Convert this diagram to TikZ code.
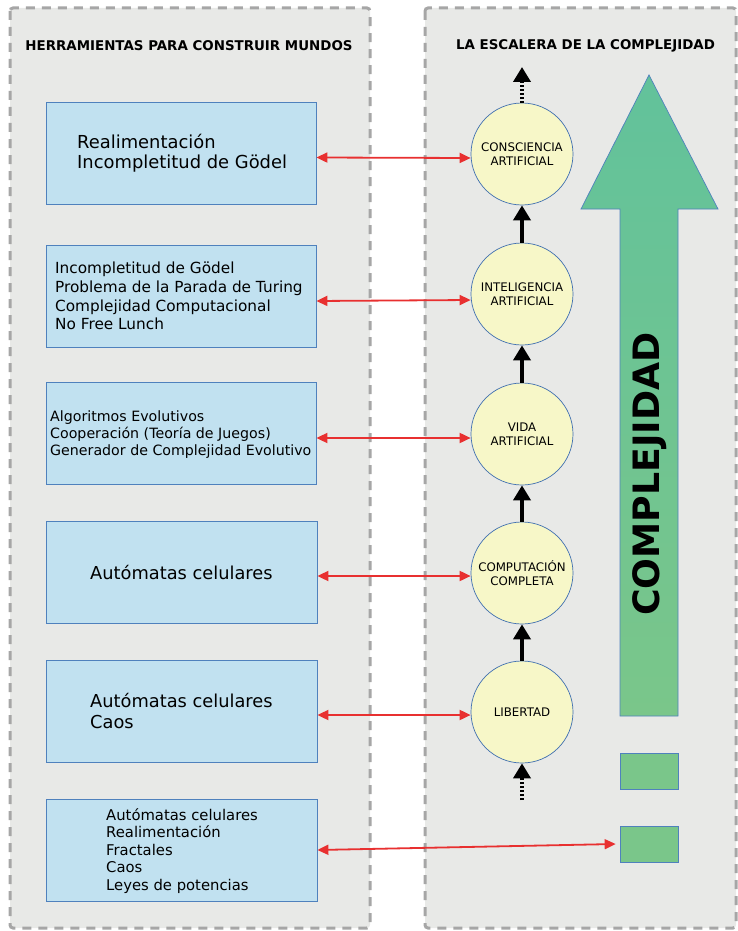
\documentclass[tikz,border=0pt]{standalone}
\usepackage{fontspec}
\setmainfont{DejaVu Sans}
\usetikzlibrary{arrows.meta,calc}
\definecolor{panelfill}{HTML}{E8E9E7}
\definecolor{paneldash}{HTML}{A6A6A6}
\definecolor{boxfill}{HTML}{C1E1F0}
\definecolor{boxline}{HTML}{4F81BD}
\definecolor{circfill}{HTML}{F7F7C8}
\definecolor{circline}{HTML}{3F6FB0}
\definecolor{redarrow}{HTML}{E83030}
\definecolor{greentop}{HTML}{62C29B}
\definecolor{greenbot}{HTML}{7AC68A}
\tikzset{
  panel/.style={draw=paneldash, fill=panelfill, line width=3pt, dash pattern=on 9pt off 7pt},
  toolbox/.style={draw=boxline, fill=boxfill, line width=0.8pt, minimum width=270pt, minimum height=102pt, inner sep=0pt},
  rung/.style={circle, draw=circline, fill=circfill, line width=0.7pt, minimum size=102pt, inner sep=0pt, align=center, font=\fontsize{11.8}{14}\selectfont},
  boxtext/.style={anchor=west, align=left, inner sep=0pt},
  redarr/.style={draw=redarrow, line width=1.8pt, {Triangle[width=10pt,length=11pt]}-{Triangle[width=10pt,length=11pt]}},
  blackarr/.style={draw=black, line width=4pt, -{Triangle[width=17pt,length=15pt]}},
  dotarr/.style={draw=black, line width=4pt, dash pattern=on 2pt off 2pt, -{Triangle[width=17pt,length=15pt]}},
  greenbox/.style={draw=boxline, fill=greenbot, line width=0.7pt, minimum width=58pt, minimum height=36pt, inner sep=0pt},
  titletext/.style={font=\bfseries\fontsize{13.4}{16}\selectfont}
}
\begin{document}
\begin{tikzpicture}[x=1pt,y=-1pt]
\useasboundingbox (0,0) rectangle (738,931);
% panels
\draw[panel, rounded corners=3pt] (10,8) rectangle (370,928);
\draw[panel, rounded corners=3pt] (425,8) rectangle (736,928);
\node[titletext] (tl) at (189,46) {HERRAMIENTAS PARA CONSTRUIR MUNDOS};
\node[titletext] (tr) at (585.5,46) {LA ESCALERA DE LA COMPLEJIDAD};
% boxes
\node[toolbox] (b1) at (181,153.5) {};
\node[toolbox] (b2) at (181,296) {};
\node[toolbox] (b3) at (181,433) {};
\node[toolbox, minimum width=271pt] (b4) at (181.5,572) {};
\node[toolbox, minimum width=271pt] (b5) at (181.5,711) {};
\node[toolbox, minimum width=271pt] (b6) at (181.5,850) {};
\node[boxtext, font=\fontsize{17.9}{20}\selectfont] (t1) at (77,153) {Realimentación\\Incompletitud de Gödel};
\node[boxtext, font=\fontsize{15.3}{18.7}\selectfont] (t2) at (55,296) {Incompletitud de Gödel\\Problema de la Parada de Turing\\Complejidad Computacional\\No Free Lunch};
\node[boxtext, font=\fontsize{14.2}{17}\selectfont] (t3) at (50,435) {Algoritmos Evolutivos\\Cooperación (Teoría de Juegos)\\Generador de Complejidad Evolutivo};
\node[boxtext, font=\fontsize{17.8}{21}\selectfont] (t4) at (90,573) {Autómatas celulares};
\node[boxtext, font=\fontsize{17.8}{21}\selectfont] (t5) at (90,711) {Autómatas celulares\\Caos};
\node[boxtext, font=\fontsize{14.8}{17.5}\selectfont] (t6) at (106,851) {Autómatas celulares\\Realimentación\\Fractales\\Caos\\Leyes de potencias};
% circles
\node[rung] (c1) at (522,154) {CONSCIENCIA\\ARTIFICIAL};
\node[rung] (c2) at (522,294) {INTELIGENCIA\\ARTIFICIAL};
\node[rung] (c3) at (522,434) {VIDA\\ARTIFICIAL};
\node[rung] (c4) at (522,573) {COMPUTACIÓN\\COMPLETA};
\node[rung] (c5) at (522,712) {LIBERTAD};
% black arrows
\draw[blackarr] (c2.north) -- (c1.south);
\draw[blackarr] (c3.north) -- (c2.south);
\draw[blackarr] (c4.north) -- (c3.south);
\draw[blackarr] (c5.north) -- (c4.south);
\coordinate (topend) at (522,67);
\coordinate (botstart) at (522,800);
\draw[dotarr] (c1.north) -- (topend);
\draw[dotarr] (botstart) -- (c5.south);
% green arrow
\shade[top color=greentop, bottom color=greenbot, draw=boxline, line width=0.7pt]
  (620,716) -- (620,209) -- (581,209) -- (649,75) -- (718,209) -- (678,209) -- (678,716) -- cycle;
\node[rotate=90, font=\bfseries\fontsize{36.3}{40}\selectfont] (cx) at (650,474) {COMPLEJIDAD};
\node[greenbox] (g1) at (649,771) {};
\node[greenbox] (g2) at (649,844) {};
% red arrows
\draw[redarr] ([yshift=-4pt]b1.east) -- ([yshift=-4pt]c1.west);
\draw[redarr] ([yshift=-5pt]b2.east) -- ([yshift=-6pt]c2.west);
\draw[redarr] ([yshift=-5pt]b3.east) -- ([yshift=-4pt]c3.west);
\draw[redarr] ([yshift=-4pt]b4.east) -- ([yshift=-3pt]c4.west);
\draw[redarr] ([yshift=-4pt]b5.east) -- ([yshift=-3pt]c5.west);
\draw[redarr] (b6.east) -- ([xshift=-4pt]g2.west);
\end{tikzpicture}
\end{document}
